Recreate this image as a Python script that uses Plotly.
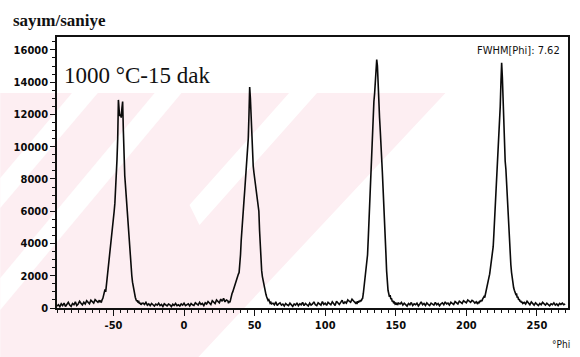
import numpy as np
import plotly.graph_objects as go

# ---- data (counts per second vs phi) ----
base_a = [120, 200, 80, 260, 150, 300, 90, 220, 350, 180,
          100, 280, 200, 380, 150, 250, 420, 300, 200, 360,
          250, 450, 320, 260, 480, 380, 300, 520, 420, 350,
          480]                                   # phi -90 .. -60 (1 deg)
peak1 = [350, 420, 380, 520, 600, 780, 950, 1150, 1000, 1400,
         1700, 2100, 2500, 2850, 3300, 3700, 4100, 4500, 5000, 5400,
         6000, 6500, 7300, 8000, 9200, 10500, 12900, 12300, 11900, 12000,
         11800, 12400, 12800, 11000, 9000, 8200, 7600, 6900, 6200, 5600,
         4900, 4200, 3600, 3000, 2500, 2000, 1600, 1300, 1000, 800,
         650, 520, 420, 480, 330, 380, 260, 320, 200, 280]   # -59.5 .. -30 (0.5 deg)
base_b = [300, 220, 350, 180, 260, 150, 280, 200, 120, 240,
          180, 300, 150, 220, 100, 260, 180, 130, 250, 200,
          90, 230, 160, 280, 140, 200, 120, 250, 180, 300,
          150, 220, 260, 130, 280, 200, 160, 320, 240, 180,
          350, 220, 280, 150, 320, 250, 400, 300, 220, 450,
          350, 280, 500, 380, 320, 550, 420, 600, 380, 500,
          450]                                   # -29 .. 31
peak2 = [300, 420, 350, 600, 750, 900, 1000, 1150, 1300, 1500,
         1650, 1800, 1900, 2000, 2100, 2200, 2600, 3300, 4200, 5000,
         5700, 6200, 6700, 7300, 8000, 8800, 9300, 9600, 10500, 12000,
         13700, 13000, 11800, 10300, 9400, 8800, 8400, 8100, 7800, 7500,
         7200, 6900, 6600, 6000, 4800, 3700, 2800, 2300, 1950, 1700,
         1400, 1200, 1000, 850, 700, 600, 480, 520, 380, 300,
         350, 250]                               # 31.5 .. 62
base_c = [300, 200, 380, 150, 260, 320, 180, 240, 120, 280,
          200, 150, 300, 220, 100, 250, 180, 320, 140, 260,
          200, 350, 150, 280, 220, 120, 300, 180, 250, 380,
          200, 150, 320, 260, 180, 400, 220, 300, 160, 350,
          250, 200, 380, 280, 150, 420, 300, 220, 350, 480,
          260, 380, 300, 500, 420, 350, 550, 450, 380]   # 63 .. 121
peak3 = [300, 380, 250, 420, 330, 450, 380, 500, 420, 550,
         600, 900, 1300, 1700, 2100, 2500, 2900, 3300, 4300, 5400,
         6600, 7700, 8600, 9800, 11300, 12200, 12800, 13300, 13900, 14600,
         15400, 15000, 13600, 12600, 11800, 11000, 10300, 9300, 8400, 7400,
         6600, 5600, 4500, 3400, 2300, 1400, 1100, 900, 700, 800,
         550, 600, 400, 450, 300, 350, 250, 300, 200, 280,
         230, 300]                               # 121.5 .. 152
base_d = [250, 350, 180, 300, 220, 120, 280, 200, 340, 150,
          260, 200, 300, 130, 250, 380, 200, 280, 160, 320,
          220, 150, 300, 250, 180, 350, 200, 280, 140, 260,
          320, 200, 380, 250, 300, 180, 350, 280, 220, 400,
          300, 250, 420, 350, 280, 450, 380, 320, 500, 400,
          350, 480, 420, 300, 380]               # 153 .. 207
peak4 = [300, 250, 380, 300, 450, 380, 500, 420, 550, 600,
         700, 650, 900, 1100, 1300, 1500, 1700, 1900, 2100, 2400,
         2700, 2900, 3200, 3800, 4600, 5400, 6300, 7000, 8000, 9200,
         10000, 10400, 10900, 12500, 14000, 15200, 14300, 12600, 11000, 9800,
         9100, 8600, 7700, 6500, 5500, 4700, 4000, 3300, 2700, 2200,
         1800, 1500, 1250, 1100, 1000, 850, 900, 650, 700, 500,
         550, 400, 450, 320, 380, 280]           # 207.5 .. 240
base_e = [350, 250, 420, 300, 200, 380, 260, 180, 320, 220,
          150, 280, 200, 350, 250, 180, 300, 220, 140, 260,
          200, 320, 180, 250, 150, 280, 220, 300, 200, 260]   # 241 .. 270

segments = [(-90, 1.0, base_a), (-59.5, 0.5, peak1), (-29, 1.0, base_b),
            (31.5, 0.5, peak2), (63, 1.0, base_c), (121.5, 0.5, peak3),
            (153, 1.0, base_d), (207.5, 0.5, peak4), (241, 1.0, base_e)]

x_ticks = [-50, 0, 50, 100, 150, 200, 250]
y_ticks = [0, 2000, 4000, 6000, 8000, 10000, 12000, 14000, 16000]

phi, counts = [], []
for start, step, vals in segments:
    phi.extend(list(start + step * np.arange(len(vals))))
    counts.extend(vals)

# ---- layout geometry ----
W, H = 580, 357
ML, MR, MT, MB = 57, 10, 37, 49
PW, PH = W - ML - MR, H - MT - MB


def pp(px, py):
    return (px - ML) / PW, (H - MB - py) / PH


def path(points):
    s = ""
    for i, (a, b) in enumerate(points):
        x, y = pp(a, b)
        s += ("M" if i == 0 else "L") + f"{x:.4f},{y:.4f} "
    return s + "Z"


PINK = "rgb(253,238,242)"
shapes = [
    dict(type="path", xref="paper", yref="paper", layer="below", line_width=0,
         fillcolor=PINK, path=path([(0, 93), (447, 93), (199, 357), (0, 357)])),
    dict(type="path", xref="paper", yref="paper", layer="below", line_width=0,
         fillcolor="white", path=path([(0, 178), (72, 93), (98, 93), (0, 208)])),
    dict(type="path", xref="paper", yref="paper", layer="below", line_width=0,
         fillcolor="white", path=path([(0, 278), (155, 93), (182, 93), (0, 310)])),
    dict(type="path", xref="paper", yref="paper", layer="below", line_width=0,
         fillcolor="white", path=path([(190, 205), (290, 93), (318, 93), (200, 225)])),
    dict(type="path", xref="paper", yref="paper", layer="below", line_width=0,
         fillcolor="white", path=path([(270, 300), (330, 228), (330, 357), (250, 357)])),
]

fig = go.Figure()
fig.add_trace(go.Scatter(x=phi, y=counts, mode="lines",
                         line=dict(color="#0a0a0a", width=1.6),
                         hoverinfo="skip", showlegend=False))

tickfont = dict(family="Liberation Sans Narrow, DejaVu Sans Condensed, Arial", size=11, color="#0a0a0a",
                weight="bold")

fig.update_xaxes(range=[-90, 272], tickvals=x_ticks, ticktext=[str(v) for v in x_ticks],
                 showgrid=False, zeroline=False, showline=True, linecolor="#111111",
                 linewidth=1.5, mirror=True, ticks="outside", ticklen=6, tickwidth=1.2,
                 tickcolor="#111111", tickfont=tickfont,
                 minor=dict(ticks="outside", ticklen=3, dtick=5, tick0=0, tickcolor="#111111"))
fig.update_yaxes(range=[0, 16800], tickvals=y_ticks, ticktext=[str(v) for v in y_ticks],
                 showgrid=False, zeroline=False, showline=True, linecolor="#111111",
                 linewidth=1.5, mirror=True, ticks="outside", ticklen=5, tickwidth=1.2,
                 tickcolor="#111111", tickfont=tickfont,
                 minor=dict(ticks="outside", ticklen=3, dtick=500, tick0=0, tickcolor="#111111"))

annotations = [
    dict(text="<b>sayım/saniye</b>", xref="paper", yref="paper",
         x=pp(11, 0)[0], y=pp(0, 21)[1], xanchor="left", yanchor="middle", showarrow=False,
         font=dict(family="Liberation Serif, Times New Roman", size=17, color="#111111")),
    dict(text="1000 °C-15 dak", xref="paper", yref="paper",
         x=pp(62, 0)[0], y=pp(0, 75)[1], xanchor="left", yanchor="middle", showarrow=False,
         font=dict(family="Liberation Serif, Times New Roman", size=23, color="#111111")),
    dict(text="FWHM[Phi]: 7.62", xref="paper", yref="paper",
         x=pp(564, 0)[0], y=pp(0, 51)[1], xanchor="right", yanchor="middle", showarrow=False,
         font=dict(family="Liberation Sans Narrow, DejaVu Sans Condensed, Arial", size=11, color="#111111")),
    dict(text="°Phi", xref="paper", yref="paper",
         x=pp(574, 0)[0], y=pp(0, 344)[1], xanchor="right", yanchor="middle", showarrow=False,
         font=dict(family="Liberation Sans Narrow, DejaVu Sans Condensed, Arial", size=10, color="#111111")),
]

fig.update_layout(width=W, height=H, margin=dict(l=ML, r=MR, t=MT, b=MB),
                  paper_bgcolor="white", plot_bgcolor="rgba(0,0,0,0)",
                  shapes=shapes, annotations=annotations, showlegend=False)

fig.write_html("out.html")
